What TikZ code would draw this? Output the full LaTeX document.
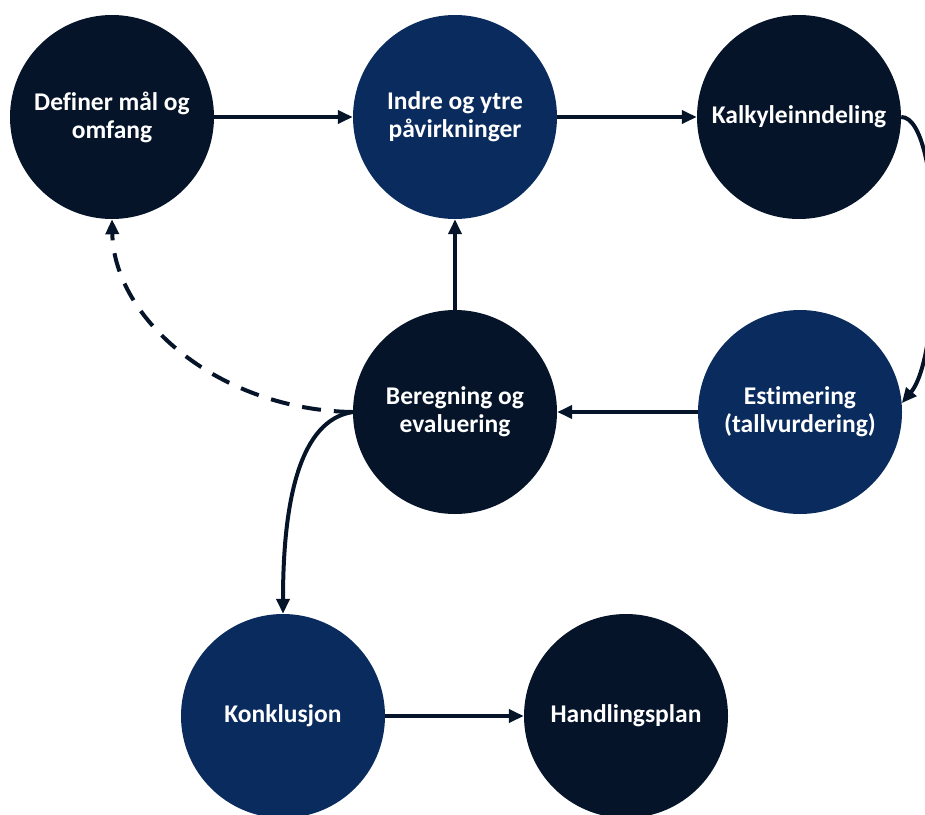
\documentclass[tikz,border=0pt]{standalone}
\usepackage{fontspec}
\setmainfont[RawFeature=-liga]{Carlito}
\usetikzlibrary{arrows.meta}
\definecolor{navydark}{HTML}{051429}
\definecolor{navyblue}{HTML}{0A2B5E}
\tikzset{
  stage/.style={circle, minimum size=204pt, inner sep=0pt, text=white,
    font=\fontsize{25.5}{28}\selectfont\bfseries, align=center},
  darkstage/.style={stage, fill=navydark},
  bluestage/.style={stage, fill=navyblue},
  flow/.style={draw=navydark, line width=4pt,
    -{Triangle[length=15pt,width=13pt]}},
}
\begin{document}
\begin{tikzpicture}[x=1pt,y=-1pt]
\useasboundingbox (0,0) rectangle (925,814);
\node[darkstage] (A) at (112,117) {Definer mål og\\omfang};
\node[bluestage] (B) at (455,117) {Indre og ytre\\påvirkninger};
\node[darkstage] (C) at (799,117) {Kalkyleinndeling};
\node[bluestage] (D) at (800,412) {Estimering\\(tallvurdering)};
\node[darkstage] (E) at (455,412) {Beregning og\\evaluering};
\node[bluestage] (F) at (283,716) {Konklusjon};
\node[darkstage] (G) at (626,716) {Handlingsplan};

\draw[flow] (A) -- (B);
\draw[flow] (B) -- (C);
\draw[flow] (C.east) .. controls +(42,0) and +(42,-50) .. (D.5);
\draw[flow] (D) -- (E);
\draw[flow] (E) -- (B);
\draw[flow, dash pattern=on 19pt off 13pt] (E.west) .. controls (220,410) and (114,320) .. (A.south);
\draw[flow] (E.west) .. controls (300,420) and (283,500) .. (F.north);
\draw[flow] (F) -- (G);
\end{tikzpicture}
\end{document}
